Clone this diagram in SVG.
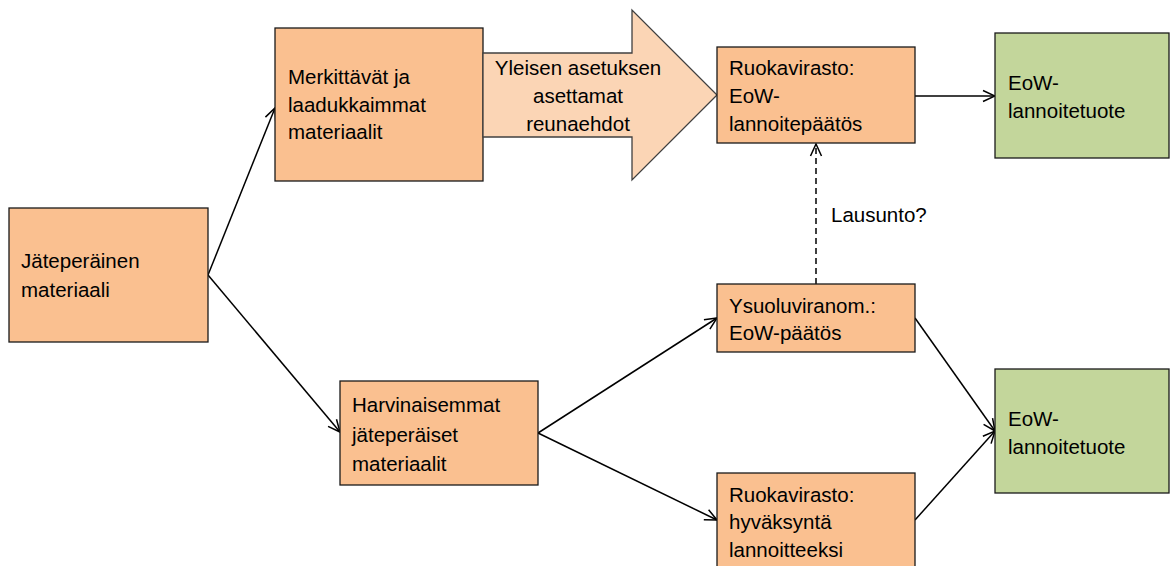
<svg xmlns="http://www.w3.org/2000/svg" width="1170" height="566" viewBox="0 0 1170 566">
<style>
.box{fill:#FAC090;stroke:#1a1a1a;stroke-width:1.3}
.green{fill:#C3D69B;stroke:#1a1a1a;stroke-width:1.3}
.big{fill:#FBD5B5;stroke:#404040;stroke-width:1.3}
text{font-family:"Liberation Sans",Arial,sans-serif;font-size:20.5px;fill:#000}
.c{stroke:#000;stroke-width:1.5;fill:none}
</style>
<defs>
<marker id="ah" viewBox="0 0 14 14" refX="13" refY="7" markerWidth="14" markerHeight="14" markerUnits="userSpaceOnUse" orient="auto">
<path d="M1,1.5 L13,7 L1,12.5" fill="none" stroke="#000" stroke-width="1.5"/>
</marker>
</defs>
<g id="connectors">
<line class="c" x1="208" y1="275" x2="275" y2="108" marker-end="url(#ah)"/>
<line class="c" x1="208" y1="275" x2="340" y2="432" marker-end="url(#ah)"/>
<line class="c" x1="915" y1="96" x2="995" y2="96" marker-end="url(#ah)"/>
<line class="c" x1="816" y1="284" x2="816" y2="144" stroke-dasharray="6,4" marker-end="url(#ah)"/>
<line class="c" x1="538" y1="433" x2="717" y2="318" marker-end="url(#ah)"/>
<line class="c" x1="538" y1="433" x2="717" y2="520" marker-end="url(#ah)"/>
<line class="c" x1="915" y1="318" x2="995" y2="431" marker-end="url(#ah)"/>
<line class="c" x1="915" y1="520" x2="995" y2="431" marker-end="url(#ah)"/>
<text x="831" y="222">Lausunto?</text>
</g>
<g id="n-jate">
<rect class="box" x="9" y="208" width="199" height="134"/>
<text x="21" y="268">Jäteperäinen</text>
<text x="21" y="297">materiaali</text>
</g>
<g id="n-merk">
<rect class="box" x="275" y="28" width="208" height="153"/>
<text x="288" y="84">Merkittävät ja</text>
<text x="288" y="112">laadukkaimmat</text>
<text x="288" y="139">materiaalit</text>
</g>
<g id="n-yleinen">
<path class="big" d="M483,53 L632,53 L632,10 L717,95 L632,180 L632,137 L483,137 Z"/>
<text x="578" y="75" text-anchor="middle">Yleisen asetuksen</text>
<text x="578" y="103" text-anchor="middle">asettamat</text>
<text x="578" y="131" text-anchor="middle">reunaehdot</text>
</g>
<g id="n-ruoka1">
<rect class="box" x="717" y="47" width="198" height="96"/>
<text x="729" y="75">Ruokavirasto:</text>
<text x="729" y="103">EoW-</text>
<text x="729" y="131">lannoitepäätös</text>
</g>
<g id="n-eow1">
<rect class="green" x="995" y="33" width="174" height="125"/>
<text x="1008" y="90">EoW-</text>
<text x="1008" y="118">lannoitetuote</text>
</g>
<g id="n-harv">
<rect class="box" x="340" y="381" width="198" height="104"/>
<text x="352" y="412">Harvinaisemmat</text>
<text x="352" y="442">jäteperäiset</text>
<text x="352" y="471">materiaalit</text>
</g>
<g id="n-ysuol">
<rect class="box" x="717" y="284" width="198" height="68"/>
<text x="729" y="313">Ysuoluviranom.:</text>
<text x="729" y="340">EoW-päätös</text>
</g>
<g id="n-ruoka2">
<rect class="box" x="717" y="473" width="198" height="100"/>
<text x="729" y="502">Ruokavirasto:</text>
<text x="729" y="529">hyväksyntä</text>
<text x="729" y="557">lannoitteeksi</text>
</g>
<g id="n-eow2">
<rect class="green" x="995" y="369" width="174" height="124"/>
<text x="1008" y="426">EoW-</text>
<text x="1008" y="454">lannoitetuote</text>
</g>
</svg>
